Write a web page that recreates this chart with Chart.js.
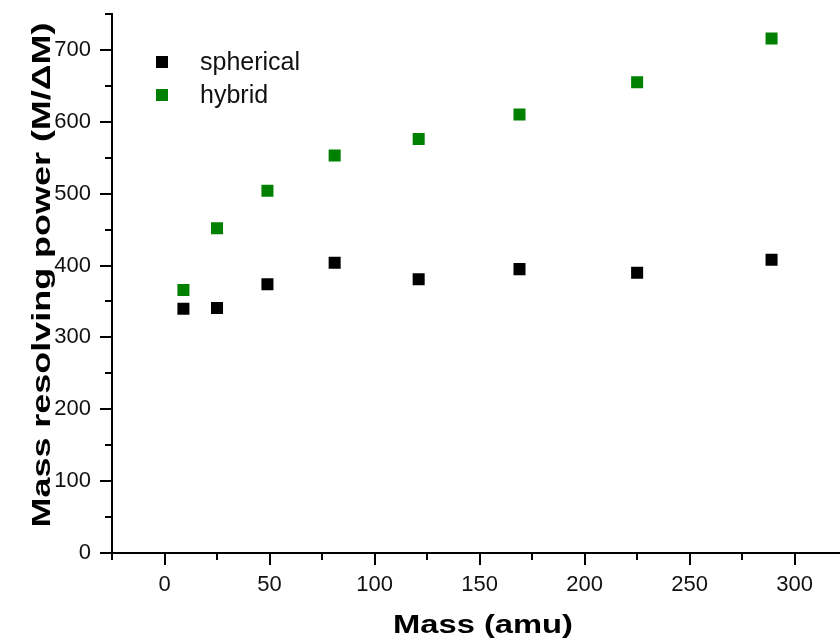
<!DOCTYPE html>
<html>
<head>
<meta charset="utf-8">
<script src="https://cdn.jsdelivr.net/npm/chart.js@4.4.1/dist/chart.umd.min.js"></script>
<style>
  html, body { margin: 0; padding: 0; background: #fff; overflow: hidden; }
  #wrap { width: 850px; height: 643px; }
  canvas { display: block; }
</style>
</head>
<body>
<div id="wrap"><canvas id="plot" width="850" height="643"></canvas></div>
<script>
// Ion mass (amu) for each measurement
const masses = [9, 25, 49, 81, 121, 169, 225, 289];
// Mass resolving power M/ΔM for the two analyser geometries
const sphericalPower = [340, 341, 374, 404, 381, 395, 390, 408];
const hybridPower = [366, 452, 504, 553, 576, 610, 655, 716];

// Axis ticks
const xMajorTicks = [0, 50, 100, 150, 200, 250, 300];
const xMinorTicks = [-25, 25, 75, 125, 175, 225, 275];
const yMajorTicks = [0, 100, 200, 300, 400, 500, 600, 700];
const yMinorTicks = [50, 150, 250, 350, 450, 550, 650, 750];

const xTitle = 'Mass (amu)';
const yTitle = 'Mass resolving power (M/\u0394M)';

const FONT = "'Liberation Sans', Arial, sans-serif";

const toPoints = (ys) => masses.map((m, i) => ({ x: m, y: ys[i] }));

// Tick marks, legend and stretched axis titles
const decorations = {
  id: 'decorations',
  afterDraw(chart) {
    const { ctx, chartArea: area, scales: { x, y } } = chart;
    ctx.save();
    ctx.strokeStyle = '#000';
    ctx.lineWidth = 2;
    ctx.beginPath();
    const tickX = (v, len) => {
      const px = Math.round(x.getPixelForValue(v));
      ctx.moveTo(px, area.bottom);
      ctx.lineTo(px, area.bottom + len);
    };
    const tickY = (v, len) => {
      const py = Math.round(y.getPixelForValue(v));
      ctx.moveTo(area.left, py);
      ctx.lineTo(area.left - len, py);
    };
    xMajorTicks.forEach(v => tickX(v, 12));
    xMinorTicks.forEach(v => tickX(v, 7));
    yMajorTicks.forEach(v => tickY(v, 12));
    yMinorTicks.forEach(v => tickY(v, 7));
    ctx.stroke();

    // legend
    ctx.font = '25px ' + FONT;
    ctx.textBaseline = 'middle';
    ctx.textAlign = 'left';
    chart.data.datasets.forEach((ds, i) => {
      const cy = 62 + i * 33;
      ctx.fillStyle = ds.backgroundColor;
      ctx.fillRect(156, cy - 6, 12, 12);
      ctx.fillStyle = '#111';
      ctx.fillText(ds.label, 200, cy + 1);
    });

    // axis titles
    ctx.fillStyle = '#000';
    ctx.font = 'bold 25px ' + FONT;
    ctx.textAlign = 'center';
    ctx.textBaseline = 'alphabetic';
    let w = ctx.measureText(xTitle).width;
    ctx.save();
    ctx.translate(483, 633);
    ctx.scale(180 / w, 1);
    ctx.fillText(xTitle, 0, 0);
    ctx.restore();

    w = ctx.measureText(yTitle).width;
    ctx.save();
    ctx.translate(50, 275);
    ctx.rotate(-Math.PI / 2);
    ctx.scale(505 / w, 1);
    ctx.fillText(yTitle, 0, 0);
    ctx.restore();

    ctx.restore();
  }
};

new Chart(document.getElementById('plot'), {
  type: 'scatter',
  data: {
    datasets: [
      {
        label: 'spherical',
        data: toPoints(sphericalPower),
        backgroundColor: '#000000',
        borderWidth: 0,
        pointStyle: 'rect',
        pointRadius: 8.5,
        pointHoverRadius: 8.5
      },
      {
        label: 'hybrid',
        data: toPoints(hybridPower),
        backgroundColor: '#008000',
        borderWidth: 0,
        pointStyle: 'rect',
        pointRadius: 8.5,
        pointHoverRadius: 8.5
      }
    ]
  },
  options: {
    responsive: false,
    animation: false,
    devicePixelRatio: 1,
    layout: { padding: { left: 32, top: 14, right: 0, bottom: 50 } },
    plugins: {
      legend: { display: false },
      tooltip: { enabled: false }
    },
    scales: {
      x: {
        type: 'linear',
        min: -25,
        max: 322.3,
        afterBuildTicks: (s) => { s.ticks = xMajorTicks.map(v => ({ value: v })); },
        afterFit: (s) => { s.height = 40; s.paddingLeft = 0; s.paddingRight = 0; },
        grid: { display: true, drawOnChartArea: false, drawTicks: false },
        border: { display: true, color: '#000', width: 2 },
        ticks: {
          padding: 19,
          maxRotation: 0,
          autoSkip: false,
          color: '#111',
          font: { family: FONT, size: 22 }
        }
      },
      y: {
        type: 'linear',
        min: 0,
        max: 750,
        afterBuildTicks: (s) => { s.ticks = yMajorTicks.map(v => ({ value: v })); },
        afterFit: (s) => { s.width = 80; s.paddingTop = 0; s.paddingBottom = 0; },
        grid: { display: true, drawOnChartArea: false, drawTicks: false },
        border: { display: true, color: '#000', width: 2 },
        ticks: {
          padding: 21,
          autoSkip: false,
          color: '#111',
          font: { family: FONT, size: 22 }
        }
      }
    }
  },
  plugins: [decorations]
});
</script>
</body>
</html>
